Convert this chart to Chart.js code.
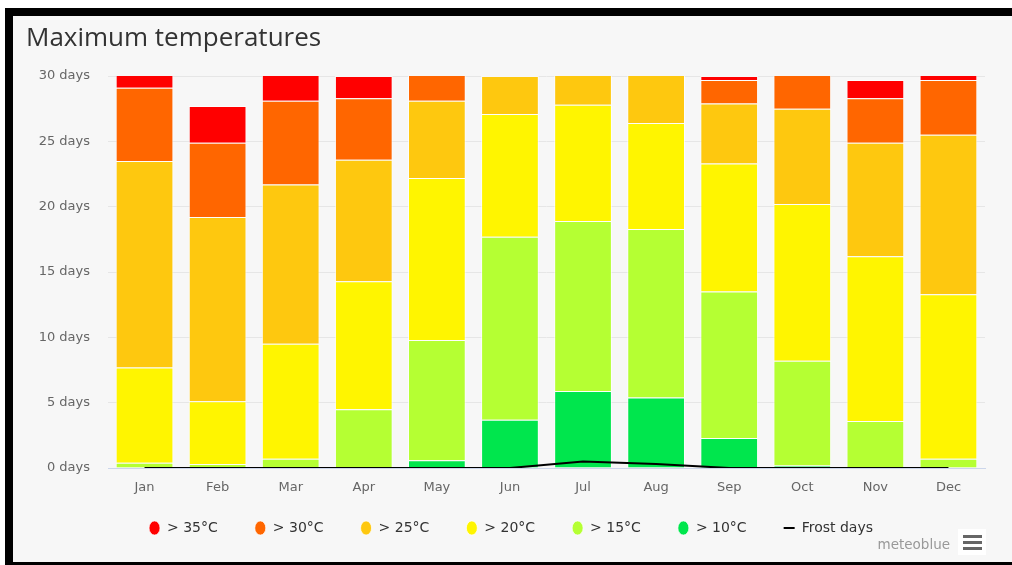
<!DOCTYPE html>
<html>
<head>
<meta charset="utf-8">
<title>Maximum temperatures</title>
<script src="https://cdn.jsdelivr.net/npm/chart.js@4.4.1/dist/chart.umd.min.js"></script>
<style>
    html, body { margin: 0; padding: 0; background: #fff; }
    body { width: 1012px; height: 565px; position: relative; overflow: hidden; }
    .frame { position: absolute; left: 5px; top: 8px; right: 0; bottom: 0; background: #000; }
    .panel { position: absolute; left: 13px; top: 16px; width: 999px; height: 546px; background: #f7f7f7; }
    .panel canvas { position: absolute; left: 0; top: 0; }
    .title {
        position: absolute; left: 13px; top: 2px;
        font: 26px "Open Sans", sans-serif; color: #333; white-space: nowrap;
    }
    .credits {
        position: absolute; right: 62px; top: 520px;
        font: 13.5px "DejaVu Sans", sans-serif; color: #999;
    }
    .menu { position: absolute; left: 945px; top: 513px; width: 28px; height: 26px; background: #fff; }
    .menu span { position: absolute; left: 5px; width: 19px; height: 3px; background: #666; }
</style>
</head>
<body>
<div class="frame"></div>
<div class="panel">
    <canvas id="myChart" width="999" height="546"></canvas>
    <div class="title">Maximum temperatures</div>
    <div class="credits">meteoblue</div>
    <div class="menu"><span style="top:6px"></span><span style="top:12px"></span><span style="top:18px"></span></div>
</div>
<script>
const months = ['Jan', 'Feb', 'Mar', 'Apr', 'May', 'Jun', 'Jul', 'Aug', 'Sep', 'Oct', 'Nov', 'Dec'];

// days per month with a maximum temperature in each band
const above35 = [1.9, 2.8, 2.9, 1.7, 0, 0, 0, 0, 0.3, 0, 1.4, 1.3];
const above30 = [5.6, 5.7, 6.4, 4.7, 2.9, 0, 0, 0, 1.8, 3.5, 3.4, 4.2];
const above25 = [15.8, 14.1, 12.2, 9.3, 5.9, 2.9, 3.2, 4.6, 4.6, 7.3, 8.7, 12.2];
const above20 = [7.3, 4.8, 8.8, 9.8, 12.4, 9.4, 8.9, 8.1, 9.8, 12.0, 12.6, 12.6];
const above15 = [0.4, 0.3, 0.7, 4.5, 9.2, 14.0, 13.0, 12.9, 11.2, 8.0, 3.6, 0.7];
const above10 = [0, 0, 0, 0, 0.6, 3.7, 5.9, 5.4, 2.3, 0.2, 0, 0];
const frostDays = [0, 0, 0, 0, 0, 0, 0.5, 0.3, 0, 0, 0, 0];

const yTicks = [0, 5, 10, 15, 20, 25, 30];

const bands = [
    { label: '> 10°C', data: above10, color: '#00e64d' },
    { label: '> 15°C', data: above15, color: '#b5ff33' },
    { label: '> 20°C', data: above20, color: '#fff500' },
    { label: '> 25°C', data: above25, color: '#fec80f' },
    { label: '> 30°C', data: above30, color: '#ff6600' },
    { label: '> 35°C', data: above35, color: '#ff0000' }
];

const axisFont = { family: '"DejaVu Sans", sans-serif', size: 13 };
const legendFont = { family: '"DejaVu Sans", sans-serif', size: 14 };
const legendPadding = 37;

// frost line first so it is drawn on top; legend is reversed
const datasets = [{
    type: 'line',
    label: 'Frost days',
    data: frostDays,
    borderColor: '#000',
    backgroundColor: '#000',
    borderWidth: 2,
    pointRadius: 0,
    pointStyle: 'line',
    tension: 0
}].concat(bands.map(b => ({
    type: 'bar',
    label: b.label,
    data: b.data,
    backgroundColor: b.color,
    borderColor: 'rgba(255, 255, 255, 0.7)',
    borderWidth: 1,
    pointStyle: 'circle',
    barPercentage: 0.79,
    categoryPercentage: 1
})));

// put the legend row where the original has it
const placeLegend = {
    id: 'placeLegend',
    afterLayout(chart) {
        const lg = chart.legend;
        lg.left += 12;
        lg.right += 12;
        lg.top = 512 - legendPadding - 7;
        lg.bottom = 546;
    }
};

const ctx = document.getElementById('myChart').getContext('2d');
const myChart = new Chart(ctx, {
    data: { labels: months, datasets: datasets },
    plugins: [placeLegend],
    options: {
        responsive: false,
        animation: false,
        layout: { padding: { left: 0, right: 27, top: 60, bottom: -60 } },
        scales: {
            x: {
                stacked: true,
                grid: { display: false, drawTicks: false },
                border: { color: '#ccd6eb' },
                ticks: { color: '#666', font: axisFont, padding: 12 },
                afterFit: (scale) => {
                    // plot bottom at 452 whatever the legend height is
                    scale.height = 546 + 60 - 452 - scale.chart.legend.height;
                }
            },
            y: {
                stacked: true,
                min: 0,
                max: 30,
                afterBuildTicks: (scale) => {
                    scale.ticks = yTicks.map(v => ({ value: v }));
                },
                afterFit: (scale) => { scale.width = 95; },
                grid: { color: '#e6e6e6', drawTicks: false },
                border: { display: false },
                ticks: {
                    color: '#666',
                    font: axisFont,
                    padding: 18,
                    callback: (v) => v + ' days'
                }
            }
        },
        plugins: {
            legend: {
                position: 'bottom',
                reverse: true,
                labels: {
                    usePointStyle: true,
                    boxHeight: 10,
                    pointStyleWidth: 11,
                    padding: legendPadding,
                    color: '#333',
                    font: legendFont
                }
            },
            tooltip: { enabled: false }
        }
    }
});
</script>
</body>
</html>
